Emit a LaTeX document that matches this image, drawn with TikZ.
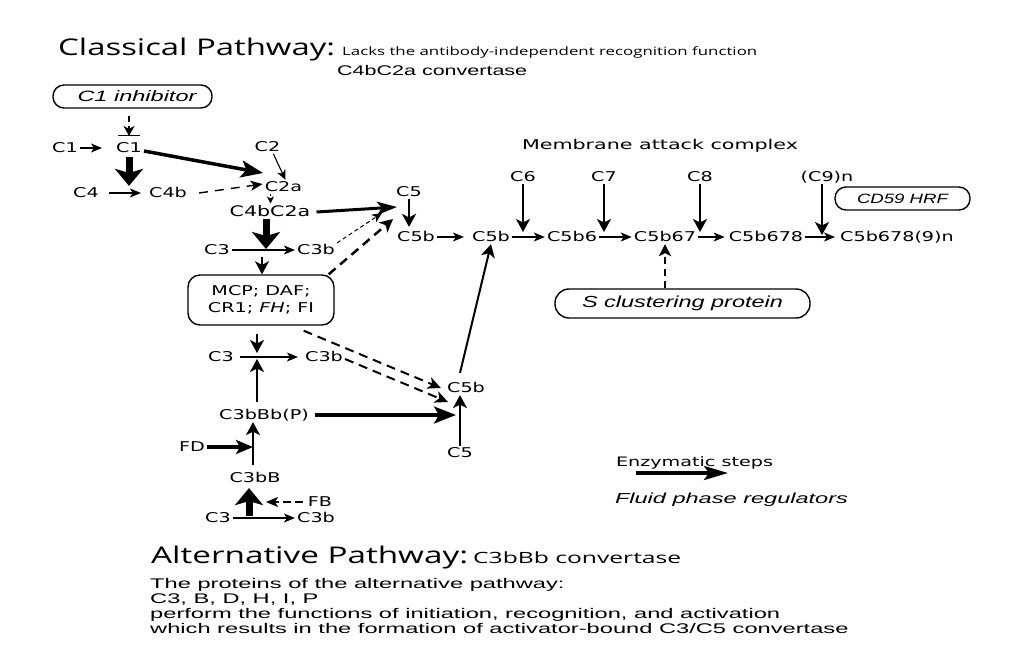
\documentclass[tikz,border=0pt]{standalone}
\usepackage{fontspec}
\usepackage{graphicx}
\usetikzlibrary{arrows.meta,calc}
\newfontfamily\labf[FakeStretch=1.42]{DejaVu Sans}
\newfontfamily\plainf{DejaVu Sans}
\newfontfamily\arf{Liberation Sans}
\newfontfamily\bodyf[FakeStretch=1.69]{Liberation Sans}
\newfontfamily\titf{Open Sans}
\newsavebox\wfbox
\newcommand\wfit[2]{\sbox\wfbox{#2}\pgfmathsetmacro\wfr{#1/\the\wd\wfbox}\scalebox{\wfr}[1]{\usebox\wfbox}}
\begin{document}
\begin{tikzpicture}[x=1pt,y=-1pt,
  lab/.style={font=\labf\fontsize{13.5}{15}\selectfont, inner sep=2pt, text height=9.8pt, text depth=0pt},
  rbox/.style={draw, line width=1.4pt, rounded corners=11pt, inner sep=0pt},
  ttl/.style={font=\titf\fontsize{23}{26}\selectfont, inner sep=0pt, anchor=base west},
  body/.style={font=\bodyf\fontsize{14}{16}\selectfont, inner sep=0pt, anchor=base west},
  a1/.style={line width=1.1pt, -{Stealth[length=11pt,width=9pt,inset=3pt]}},
  a2/.style={line width=2pt, -{Stealth[length=13pt,width=14pt,inset=3.5pt]}},
  a3/.style={line width=3.5pt, -{Stealth[length=22pt,width=17pt,inset=5pt]}},
  a3s/.style={line width=3.5pt, -{Stealth[length=17pt,width=14pt,inset=4pt]}},
  a5/.style={line width=7pt, -{Stealth[length=17pt,width=28pt,inset=4pt]}},
  dl/.style={dash pattern=on 9pt off 6pt},
]
\fill[white] (0,0) rectangle (1024,670);
\useasboundingbox (0,0) rectangle (1024,670);

% ---------- titles ----------
\node[ttl] (title) at (58,55) {\wfit{277}{Classical Pathway:}};
\node[ttl, font=\titf\fontsize{11.5}{13}\selectfont] (lacks) at (342,55) {\wfit{415}{Lacks the antibody-independent recognition function}};
\node[ttl, font=\arf\fontsize{14}{16}\selectfont] (c4conv) at (337,75) {\wfit{190}{C4bC2a convertase}};

% ---------- boxes ----------
\node[rbox, minimum width=159pt, minimum height=23pt, font=\arf\itshape\fontsize{15}{17}\selectfont] (c1inh) at (132.5,96.5) {\hspace*{9pt}\wfit{119}{C1 inhibitor}};
\node[rbox, rounded corners=12pt, minimum width=146pt, minimum height=50pt, align=center, font=\labf\fontsize{13.5}{17}\selectfont] (reg) at (261,300) {MCP; DAF;\\CR1; \textit{FH}; FI};
\node[rbox, minimum width=135pt, minimum height=23pt, font=\arf\itshape\fontsize{13.5}{15}\selectfont] (cd59) at (902.5,198.5) {\wfit{91}{CD59 HRF}};
\node[rbox, rounded corners=14pt, minimum width=255pt, minimum height=29pt, font=\arf\itshape\fontsize{16}{18}\selectfont] (sclp) at (682.5,303.5) {\wfit{201}{S clustering protein}};

% ---------- labels ----------
\node[lab] (c1l) at (65,148) {C1};
\node[lab] (c1) at (129,148) {C1};
\node[lab] (c2) at (267.5,147) {C2};
\node[lab] (c2a) at (283.5,187) {C2a};
\node[lab] (c4) at (86,193) {C4};
\node[lab] (c4b) at (168,193) {C4b};
\node[lab, font=\labf\fontsize{14.5}{16}\selectfont, text height=10.6pt] (c4bc2a) at (270,211) {C4bC2a};
\node[lab] (c5t) at (409,192) {C5};
\node[lab] (c5b1) at (416,237) {C5b};
\node[lab] (c5b2) at (491,237) {C5b};
\node[lab] (c3a) at (217,250) {C3};
\node[lab] (c3ba) at (316,250) {C3b};
\node[lab] (c3c) at (221,357) {C3};
\node[lab] (c3bc) at (324,357) {C3b};
\node[lab] (c5b3) at (466,388) {C5b};
\node[lab] (c5c) at (460,453) {C5};
\node[lab] (conv) at (264,415) {C3bBb(P)};
\node[lab] (fd) at (192,447) {FD};
\node[lab] (c3bB) at (255,478) {C3bB};
\node[lab] (fb) at (320,502) {FB};
\node[lab] (c3d) at (218,518) {C3};
\node[lab] (c3bd) at (316,518) {C3b};

\node[lab, font=\plainf\fontsize{13.5}{15}\selectfont] (mac) at (660,145) {\wfit{276}{Membrane attack complex}};
\node[lab] (c6) at (523,177) {C6};
\node[lab] (c7) at (604,177) {C7};
\node[lab] (c8) at (700,177) {C8};
\node[lab] (c9) at (827,177) {(C9)n};
\node[lab] (c5b6) at (572,237) {C5b6};
\node[lab] (c5b67) at (665,237) {C5b67};
\node[lab] (c5b678) at (766,237) {C5b678};
\node[lab] (c5bn) at (897,237) {C5b678(9)n};

% ---------- legend ----------
\node[lab, font=\plainf\fontsize{13}{15}\selectfont] (enz) at (694.5,462) {\wfit{157}{Enzymatic steps}};
\node[lab, font=\arf\itshape\fontsize{14.5}{16}\selectfont, text height=10.4pt] (fluid) at (731.5,498) {\wfit{233}{Fluid phase regulators}};
\coordinate (lg1) at (636,473);
\coordinate (lg2) at (728,473);
\draw[line width=3.5pt, -{Stealth[length=24pt,width=14pt,inset=5pt]}] (lg1) -- (lg2);

% ---------- bottom text ----------
\node[ttl] (alt) at (151,563) {\wfit{317}{Alternative Pathway:}};
\node[ttl, font=\titf\fontsize{15.5}{18}\selectfont] (altconv) at (473,563) {\wfit{208}{C3bBb convertase}};
\node[body] (l1) at (150,588) {The proteins of the alternative pathway:};
\node[body] (l2) at (150,603) {C3, B, D, H, I, P};
\node[body] (l3) at (150,618) {perform the functions of initiation, recognition, and activation};
\node[body] (l4) at (150,633) {which results in the formation of activator-bound C3/C5 convertase};

% ---------- coordinates ----------
\coordinate (bar) at ([yshift=5pt]c1.north);
\coordinate (t2) at (263,173);
\coordinate (d7) at ([xshift=-13pt]c2a.south);
\coordinate (j5) at (397,207);
\coordinate (j5c) at (382,213);
\coordinate (j5d) at (393,219);
\coordinate (j3) at (266,251);
\coordinate (j3b) at (262,251);
\coordinate (j4) at (257,356);
\coordinate (j6) at (448,402);
\coordinate (j7) at (456,415);
\coordinate (j8) at (253,447);
\coordinate (j10) at (249,518);
\coordinate (j11) at (266,502);

% ---------- classical pathway ----------
\draw[line width=1pt] ([xshift=-11pt]bar) -- ([xshift=11pt]bar);
\draw[line width=2pt, dash pattern=on 6pt off 4pt, -{Stealth[length=10pt,width=11pt,inset=3pt]}] ([yshift=-7pt]c1inh.south -| bar) -- (bar);
\draw[a1] (c1l.east) -- ([xshift=-12pt]c1.west);
\draw[a3] ([yshift=-3pt]c1.east) -- (t2);
\draw[line width=1.1pt, -{Stealth[length=10pt,width=9pt,inset=3pt]}] ([xshift=6pt]c2.south) -- ([xshift=2pt]c2a.north);
\draw[a5] ([yshift=-2pt]c1.south) -- (c1.south |- c4b.north);
\draw[a1] ([xshift=8pt]c4.east) -- ([xshift=-6pt]c4b.west);
\draw[line width=1.4pt, dash pattern=on 9pt off 7pt, -{Stealth[length=12pt,width=10pt,inset=3pt]}] ([xshift=10pt]c4b.east) -- ([yshift=3pt]c2a.west);
\draw[line width=1pt, dash pattern=on 2pt off 2pt, -{Stealth[length=7pt,width=7pt,inset=2pt]}] (d7) -- (d7 |- c4bc2a.north);
\draw[line width=3pt, -{Stealth[length=20pt,width=13pt,inset=5pt]}] ([xshift=4pt,yshift=-1pt]c4bc2a.east) -- (j5);
\draw[a2] (c5t.south) -- ([yshift=3pt]c5t.south |- c5b1.north);
\draw[a1] (c5b1.east) -- ([xshift=-6pt]c5b2.west);
\draw[a5] ([xshift=-4pt]c4bc2a.south) -- ([yshift=2pt]j3);
\draw[a1] (c3a.east) -- (c3ba.west);
\draw[line width=1pt, dash pattern=on 4pt off 3pt, -{Stealth[length=10pt,width=9pt,inset=3pt]}] (c3ba.north east) -- (j5c);
\draw[line width=2.5pt, dl, -{Stealth[length=13pt,width=13pt,inset=3.5pt]}] ([xshift=-6pt]reg.north east) -- (j5d);
\draw[a2] ([yshift=-6pt]j3b) -- (reg.north -| j3b);

% ---------- alternative pathway ----------
\draw[a2] ([yshift=-8pt]reg.south -| j4) -- ([yshift=3pt]j4);
\draw[a1] ([xshift=4pt]c3c.east) -- ([xshift=-5pt]c3bc.west);
\draw[a2] ([yshift=6pt]conv.north -| j4) -- ([yshift=-3pt]j4);
\draw[line width=2pt, dl, -{Stealth[length=13pt,width=12pt,inset=3.5pt]}] ([xshift=-31pt,yshift=-5pt]reg.south east) -- ([xshift=-4pt]c5b3.west);
\draw[line width=2pt, dl, -{Stealth[length=13pt,width=12pt,inset=3.5pt]}] ([yshift=-2pt]c3bc.east) -- (j6);
\draw[a2] (c5c.north) -- (c5c.north |- c5b3.south);
\draw[a3] ([xshift=4pt]conv.east) -- (j7);
\draw[a2] ([xshift=-6pt,yshift=8pt]c5b3.north) -- (c5b2.south);
\draw[a3s] (fd.east) -- (j8);
\draw[a2] ([yshift=6pt]c3bB.north -| j8) -- (conv.south -| j8);
\draw[a5] ([yshift=2pt]j10) -- ([yshift=-3pt]c3bB.south -| j10);
\draw[line width=1.5pt, dash pattern=on 8pt off 4pt, -{Stealth[length=12pt,width=10pt,inset=3pt]}] ([xshift=-3pt]fb.west) -- (j11);
\draw[a1] (c3d.east) -- (c3bd.west);

% ---------- membrane attack complex ----------
\draw[a2] (c6.south) -- ($(c6.south |- c5b2.center)+(0,-5)$);
\draw[a2] (c7.south) -- ($(c7.south |- c5b2.center)+(0,-5)$);
\draw[a2] (c8.south) -- ($(c8.south |- c5b2.center)+(0,-5)$);
\draw[a2] ([xshift=-5pt]c9.south) -- ($([xshift=-5pt]c9.south |- c5b2.center)+(0,-2)$);
\draw[a1] (c5b2.east) -- (c5b6.west);
\draw[a1] (c5b6.east) -- (c5b67.west);
\draw[a1] (c5b67.east) -- ([xshift=-2pt]c5b678.west);
\draw[a1] (c5b678.east) -- ([xshift=-3pt]c5bn.west);
\draw[line width=2.5pt, dash pattern=on 7pt off 5pt, -{Stealth[length=12pt,width=12pt,inset=3pt]}] (sclp.north -| c5b67) -- (c5b67.south);
\end{tikzpicture}
\end{document}
